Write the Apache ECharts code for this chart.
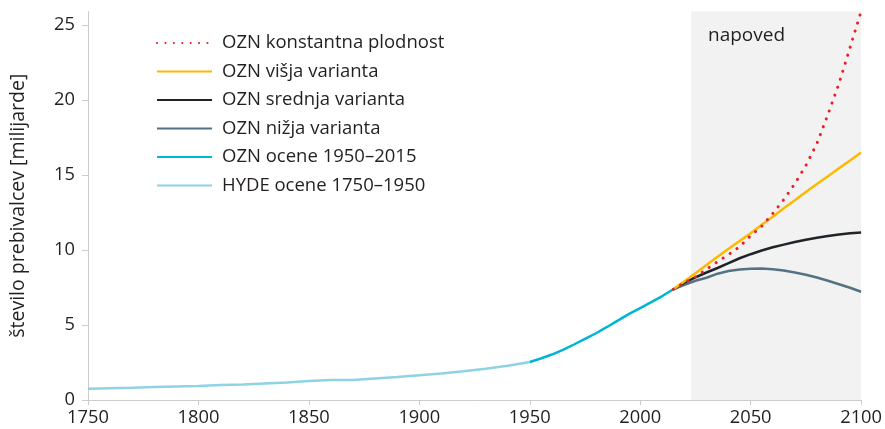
<!DOCTYPE html>
<html><head><meta charset="utf-8">
<script src="https://cdn.jsdelivr.net/npm/echarts@6/dist/echarts.min.js"></script>
<style>html,body{margin:0;padding:0;background:#fff}#c{width:885px;height:429px}</style>
</head><body><div id="c"></div>
<script>
const xTicks = [1750, 1800, 1850, 1900, 1950, 2000, 2050, 2100];
const yTicks = [0, 5, 10, 15, 20, 25];

const hydeYears = [1750,1760,1770,1780,1790,1800,1810,1820,1830,1840,1850,1860,1870,1880,1890,1900,1910,1920,1930,1940,1950];
const hydeValues = [0.75,0.78,0.81,0.86,0.9,0.94,1.0,1.03,1.1,1.17,1.26,1.34,1.34,1.44,1.54,1.65,1.77,1.92,2.09,2.29,2.53];

const unYears = [1950,1955,1960,1965,1970,1975,1980,1985,1990,1995,2000,2005,2010,2015];
const unValues = [2.53,2.77,3.03,3.34,3.70,4.08,4.45,4.87,5.31,5.74,6.13,6.52,6.93,7.38];

const projYears = [2015,2020,2025,2030,2035,2040,2045,2050,2055,2060,2065,2070,2075,2080,2085,2090,2095,2100];
const constFertility = [7.38,7.82,8.2,8.72,9.22,9.7,10.22,10.95,11.58,12.43,13.36,14.42,15.63,17.1,19.04,21.1,23.5,25.9];
const highVariant = [7.38,7.92,8.45,9.0,9.55,10.08,10.6,11.12,11.68,12.22,12.78,13.32,13.87,14.4,14.92,15.45,15.97,16.5];
const mediumVariant = [7.38,7.82,8.17,8.5,8.8,9.12,9.45,9.72,9.97,10.18,10.36,10.53,10.68,10.82,10.94,11.04,11.11,11.16];
const lowVariant = [7.38,7.68,7.95,8.15,8.42,8.6,8.7,8.75,8.76,8.72,8.63,8.5,8.35,8.17,7.95,7.72,7.48,7.22];

const forecastStart = 2023;
const forecastEnd = 2100;

const names = ['OZN konstantna plodnost','OZN višja varianta','OZN srednja varianta','OZN nižja varianta','OZN ocene 1950–2015','HYDE ocene 1750–1950'];

function pairs(xs, ys){ return xs.map((x,i)=>[x, ys[i]]); }

const FONT = '"Open Sans", sans-serif';
const TXT = '#231f20';

const chart = echarts.init(document.getElementById('c'), null, {renderer:'canvas'});
function line(name, xs, ys, color, extra){
  return Object.assign({
    name, type:'line', data: pairs(xs, ys), symbol:'none', showSymbol:false,
    lineStyle:{color, width:2.5}, itemStyle:{color}, animation:false, z:3
  }, extra||{});
}
chart.setOption({
  animation:false,
  grid:{left:88, right:22, top:11.5, bottom:29, containLabel:false},
  xAxis:{
    type:'value', min:1750, max:2100, interval:50,
    axisLine:{show:true, lineStyle:{color:'#cccccc', width:1}},
    axisTick:{show:true, length:5, lineStyle:{color:'#cccccc'}},
    splitLine:{show:false},
    axisLabel:{color:TXT, fontFamily:FONT, fontSize:18.3, margin:9,
      formatter: v => xTicks.includes(v) ? String(v) : ''}
  },
  yAxis:{
    type:'value', min:0, max:25.9, interval:5,
    name:'število prebivalcev [milijarde]', nameLocation:'middle', nameGap:60,
    nameTextStyle:{color:TXT, fontFamily:FONT, fontSize:19.5},
    axisLine:{show:true, lineStyle:{color:'#cccccc', width:1}},
    axisTick:{show:true, length:6, lineStyle:{color:'#cccccc'}},
    splitLine:{show:false},
    axisLabel:{color:TXT, fontFamily:FONT, fontSize:18.3, margin:13, showMaxLabel:false,
      formatter: v => yTicks.includes(v) ? String(v) : ''}
  },
  legend:{
    orient:'vertical', left:151, top:28, itemWidth:55, itemHeight:20, itemGap:8.5,
    data:names, selectedMode:false,
    itemStyle:{opacity:0},
    textStyle:{color:TXT, fontFamily:FONT, fontSize:18.5, lineHeight:20, padding:[0,0,0,5]}
  },
  series:[
    line(names[5], hydeYears, hydeValues, '#8ed3e4', {
      markArea:{silent:true, itemStyle:{color:'#f2f2f2'},
        label:{show:true, position:[17,15], color:TXT, fontFamily:FONT, fontSize:19},
        data:[[{xAxis:forecastStart, name:'napoved'},{xAxis:forecastEnd}]]}
    , z:2}),
    line(names[4], unYears, unValues, '#00b4d5'),
    line(names[3], projYears, lowVariant, '#557282'),
    line(names[2], projYears, mediumVariant, '#1f2428'),
    line(names[1], projYears, highVariant, '#fbba00'),
    line(names[0], projYears, constFertility, '#ee1c25', {
      lineStyle:{color:'#ee1c25', width:3, type:[0.1,8.3], cap:'round'}, z:4})
  ]
});
</script>
</body></html>
